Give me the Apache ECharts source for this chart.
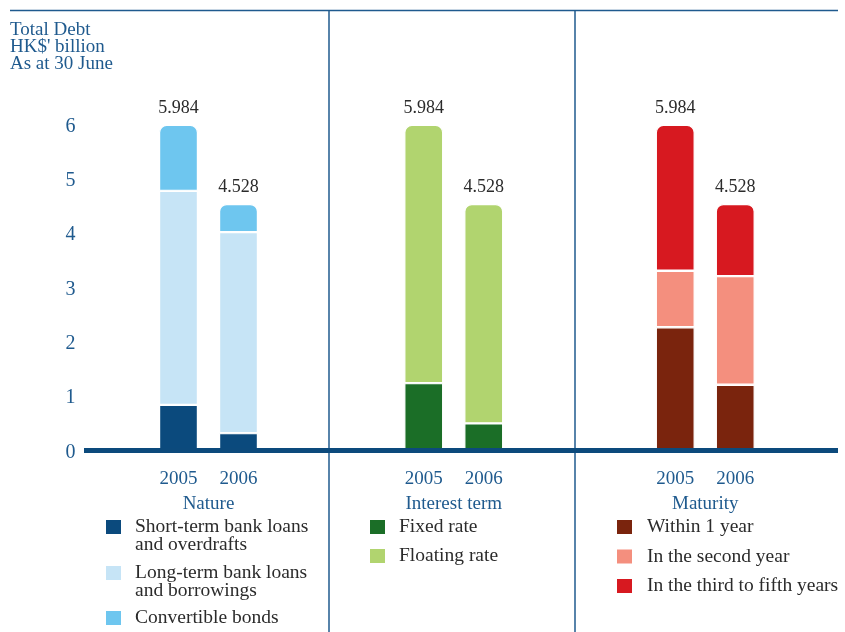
<!DOCTYPE html>
<html>
<head>
<meta charset="utf-8">
<script src="https://cdn.jsdelivr.net/npm/echarts@6/dist/echarts.min.js"></script>
<style>html,body{margin:0;padding:0;background:#fff}#c{width:845px;height:632px}</style>
</head>
<body>
<div id="c"></div>
<script>
var years = ['2005', '2006'];
var yTicks = [0, 1, 2, 3, 4, 5, 6];
var totals = [5.984, 4.528];

var natureShort = [0.83, 0.31];
var natureLong = [3.94, 3.70];
var natureConv = [1.214, 0.518];

var interestFixed = [1.23, 0.49];
var interestFloating = [4.754, 4.038];

var maturity1 = [2.26, 1.20];
var maturity2 = [1.04, 2.00];
var maturity3 = [2.684, 1.328];

var panelNames = ['Nature', 'Interest term', 'Maturity'];

var SERIF = '"Liberation Serif", "DejaVu Serif", serif';
var BLUE = '#1f5a8e';
var TXT = '#2b2b2b';

var gridLefts = [148.5, 393.75, 645.25];
var grids = gridLefts.map(function (l) {
  return { left: l, width: 120, top: 124, height: 326 };
});

var xAxes = grids.map(function (g, i) {
  return {
    type: 'category', gridIndex: i, data: years,
    axisLine: { show: false }, axisTick: { show: false },
    axisLabel: { color: BLUE, fontFamily: SERIF, fontSize: 19, margin: 20 },
    name: panelNames[i], nameLocation: 'middle', nameGap: 45,
    nameTextStyle: { color: BLUE, fontFamily: SERIF, fontSize: 19 }
  };
});

var yAxes = grids.map(function (g, i) {
  return {
    type: 'value', gridIndex: i, min: 0, max: 6, interval: 1,
    splitLine: { show: false }, axisLine: { show: false }, axisTick: { show: false },
    axisLabel: {
      show: i === 0, color: BLUE, fontFamily: SERIF, fontSize: 20, margin: 73,
      rich: { t: { color: BLUE, fontFamily: SERIF, fontSize: 20, lineHeight: 20, padding: [5, 0, 0, 0] } },
      formatter: function (v) { return yTicks.indexOf(v) >= 0 ? '{t|' + v + '}' : ''; }
    }
  };
});

function seg(name, data, color, gi, stack, isTop) {
  var s = {
    name: name, type: 'bar', xAxisIndex: gi, yAxisIndex: gi, stack: stack,
    data: data, barWidth: 39,
    itemStyle: { color: color, borderColor: '#ffffff', borderWidth: 1.2,
                 borderRadius: isTop ? [7, 7, 0, 0] : 0 },
    emphasis: { disabled: true }
  };
  if (isTop) {
    s.label = {
      show: true, position: 'top', distance: 8,
      color: TXT, fontFamily: SERIF, fontSize: 18,
      formatter: function (p) { return totals[p.dataIndex].toFixed(3); }
    };
  }
  return s;
}

var series = [
  seg('Short-term bank loans and overdrafts', natureShort, '#0b4a7d', 0, 'n', false),
  seg('Long-term bank loans and borrowings', natureLong, '#c6e4f6', 0, 'n', false),
  seg('Convertible bonds', natureConv, '#6ec6ef', 0, 'n', true),
  seg('Fixed rate', interestFixed, '#1b6e27', 1, 'i', false),
  seg('Floating rate', interestFloating, '#b1d46f', 1, 'i', true),
  seg('Within 1 year', maturity1, '#7a240d', 2, 'm', false),
  seg('In the second year', maturity2, '#f48f7e', 2, 'm', false),
  seg('In the third to fifth years', maturity3, '#d71920', 2, 'm', true)
];

function legendTs(padLeft) {
  return { color: TXT, fontFamily: SERIF, fontSize: 19.5, lineHeight: 18, padding: [0, 0, 0, padLeft] };
}
function leg(left, top, names, gap, padLeft, fmt) {
  var l = {
    orient: 'vertical', left: left, top: top, padding: 0,
    itemWidth: 15, itemHeight: 14, itemGap: gap,
    icon: 'rect', selectedMode: false, data: names,
    itemStyle: { borderWidth: 0 },
    textStyle: legendTs(padLeft)
  };
  if (fmt) l.formatter = fmt;
  return l;
}
var twoLine = {
  'Short-term bank loans and overdrafts': ' \nShort-term bank loans\nand overdrafts',
  'Long-term bank loans and borrowings': ' \nLong-term bank loans\nand borrowings'
};
function twoLineFmt(n) { return twoLine[n] || n; }

var option = {
  animation: false,
  backgroundColor: '#ffffff',
  title: {
    text: "Total Debt\nHK$' billion\nAs at 30 June",
    left: 10, top: 22, padding: 0,
    textStyle: { color: BLUE, fontFamily: SERIF, fontSize: 19, fontWeight: 'normal', lineHeight: 17 }
  },
  grid: grids,
  xAxis: xAxes,
  yAxis: yAxes,
  legend: [
    leg(106, 499, ['Short-term bank loans and overdrafts'], 0, 9, twoLineFmt),
    leg(106, 545, ['Long-term bank loans and borrowings'], 0, 9, twoLineFmt),
    leg(106, 608, ['Convertible bonds'], 0, 9),
    leg(370, 517, ['Fixed rate', 'Floating rate'], 9, 9),
    leg(617, 517, ['Within 1 year', 'In the second year', 'In the third to fifth years'], 9.5, 10)
  ],
  graphic: [
    { type: 'line', shape: { x1: 10, y1: 10.5, x2: 838, y2: 10.5 }, style: { stroke: '#1f5a8e', lineWidth: 1.5 } },
    { type: 'line', shape: { x1: 329, y1: 10.5, x2: 329, y2: 632 }, style: { stroke: '#1f5a8e', lineWidth: 1.5 } },
    { type: 'line', shape: { x1: 575, y1: 10.5, x2: 575, y2: 632 }, style: { stroke: '#1f5a8e', lineWidth: 1.5 } },
    { type: 'line', z: 100, shape: { x1: 84, y1: 450.5, x2: 838, y2: 450.5 }, style: { stroke: '#0c4a7c', lineWidth: 5 } }
  ],
  series: series
};

var chart = echarts.init(document.getElementById('c'), null, { renderer: 'canvas' });
chart.setOption(option);
</script>
</body>
</html>
